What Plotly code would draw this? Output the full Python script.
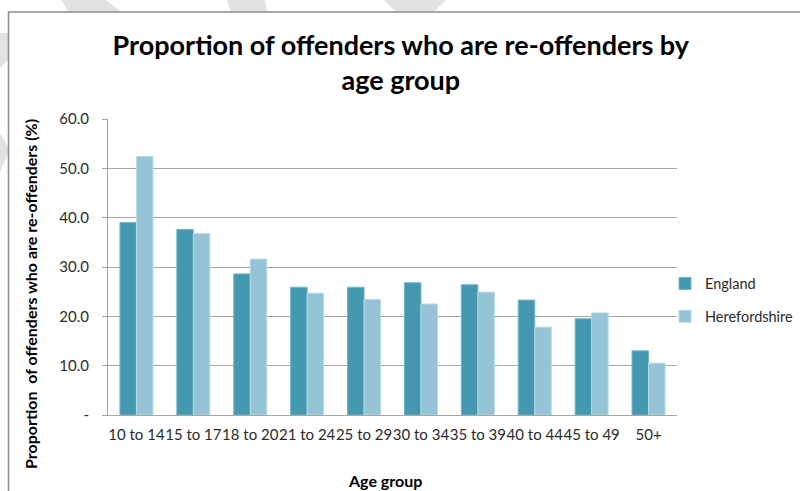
import plotly.graph_objects as go

# Re-offending proportions (%) by age group
age_groups = ["10 to 14", "15 to 17", "18 to 20", "21 to 24", "25 to 29",
              "30 to 34", "35 to 39", "40 to 44", "45 to 49", "50+"]
england = [39.0, 37.6, 28.6, 25.9, 25.9, 26.8, 26.4, 23.3, 19.5, 13.0]
herefordshire = [52.4, 36.8, 31.6, 24.7, 23.4, 22.5, 24.9, 17.8, 20.7, 10.5]

y_tick_vals = [0, 10, 20, 30, 40, 50, 60]
y_tick_text = ["-", "10.0", "20.0", "30.0", "40.0", "50.0", "60.0"]

W, H = 800, 491
L, R, T, B = 108, 123, 119, 76
PW, PH = W - L - R, H - T - B


def px(x):
    return (x - L) / PW


def py(y):
    return (H - B - y) / PH


def poly(points):
    return "M " + " L ".join(f"{px(x):.4f},{py(y):.4f}" for x, y in points) + " Z"


base_font = "Lato, 'Open Sans', sans-serif"
grid_col = "#A6A6A6"

fig = go.Figure()
fig.add_trace(go.Bar(
    x=age_groups, y=england, name="England",
    marker=dict(color="#4499B0", line=dict(color="#6FB4C7", width=1)),
    legendgroup="e",
))
fig.add_trace(go.Bar(
    x=age_groups, y=herefordshire, name="Herefordshire",
    marker=dict(color="#94C4D6", line=dict(color="#B8DAE6", width=1)),
    legendgroup="h",
))

# faint background strokes behind the chart frame, then the framed white panel
stroke = "#E2E2E2"
shapes = [
    dict(type="path", path=poly([(60, -2), (103, -2), (124, 14), (70, 14)])),
    dict(type="path", path=poly([(226, -2), (264, -2), (268, 14), (232, 14)])),
    dict(type="path", path=poly([(382, -2), (448, -2), (432, 14), (398, 14)])),
    dict(type="path", path=poly([(-2, 33), (10, 33), (10, 58), (-2, 70)])),
    dict(type="path", path=poly([(-2, 130), (10, 150), (-2, 176)])),
]
for s in shapes:
    s.update(xref="paper", yref="paper", fillcolor=stroke, line=dict(width=0), layer="below")
shapes.append(dict(
    type="rect", xref="paper", yref="paper",
    x0=px(8.5), x1=px(W + 10), y0=py(12), y1=py(H + 10),
    fillcolor="white", line=dict(color="#8C8C8C", width=1.5), layer="below",
))

annotations = [
    dict(text="Proportion  of offenders who are re-offenders (%)",
         xref="paper", yref="paper", x=px(30), y=py(294),
         xanchor="center", yanchor="middle", textangle=-90, showarrow=False,
         font=dict(family=base_font, size=16, color="black", weight="bold")),
    dict(text="Age group",
         xref="paper", yref="paper", x=px(385), y=py(480),
         xanchor="center", yanchor="middle", showarrow=False,
         font=dict(family=base_font, size=16, color="black", weight="bold")),
]

fig.update_layout(
    width=W, height=H,
    margin=dict(l=L, r=R, t=T, b=B, autoexpand=False),
    paper_bgcolor="white",
    plot_bgcolor="rgba(0,0,0,0)",
    barmode="group",
    bargap=0.42,
    bargroupgap=0,
    shapes=shapes,
    annotations=annotations,
    font=dict(family=base_font, color="#333333", size=15),
    title=dict(
        text="Proportion of offenders who are re-offenders by<br>age group",
        font=dict(family=base_font, size=27, color="black", weight="bold"),
        x=0.501, xanchor="center",
        y=1 - 55 / H, yanchor="top",
    ),
    legend=dict(
        x=px(665), xanchor="left",
        y=py(300), yanchor="middle",
        font=dict(family=base_font, size=14.5, color="#2b2b2b"),
        tracegroupgap=11,
        bgcolor="rgba(0,0,0,0)",
    ),
    xaxis=dict(
        showline=True, linecolor=grid_col, linewidth=1,
        ticks="", tickangle=0, tickfont=dict(size=15, color="#2b2b2b"),
        ticklabelstandoff=6,
        automargin=False,
    ),
    yaxis=dict(
        range=[0, 60],
        tickvals=y_tick_vals, ticktext=y_tick_text,
        showgrid=True, gridcolor=grid_col, gridwidth=1,
        showline=True, linecolor=grid_col, linewidth=1,
        ticks="outside", ticklen=5, tickcolor=grid_col,
        ticklabelstandoff=10,
        tickfont=dict(size=15, color="#2b2b2b"),
        zeroline=False,
        automargin=False,
    ),
)

fig.write_html("out.html")
